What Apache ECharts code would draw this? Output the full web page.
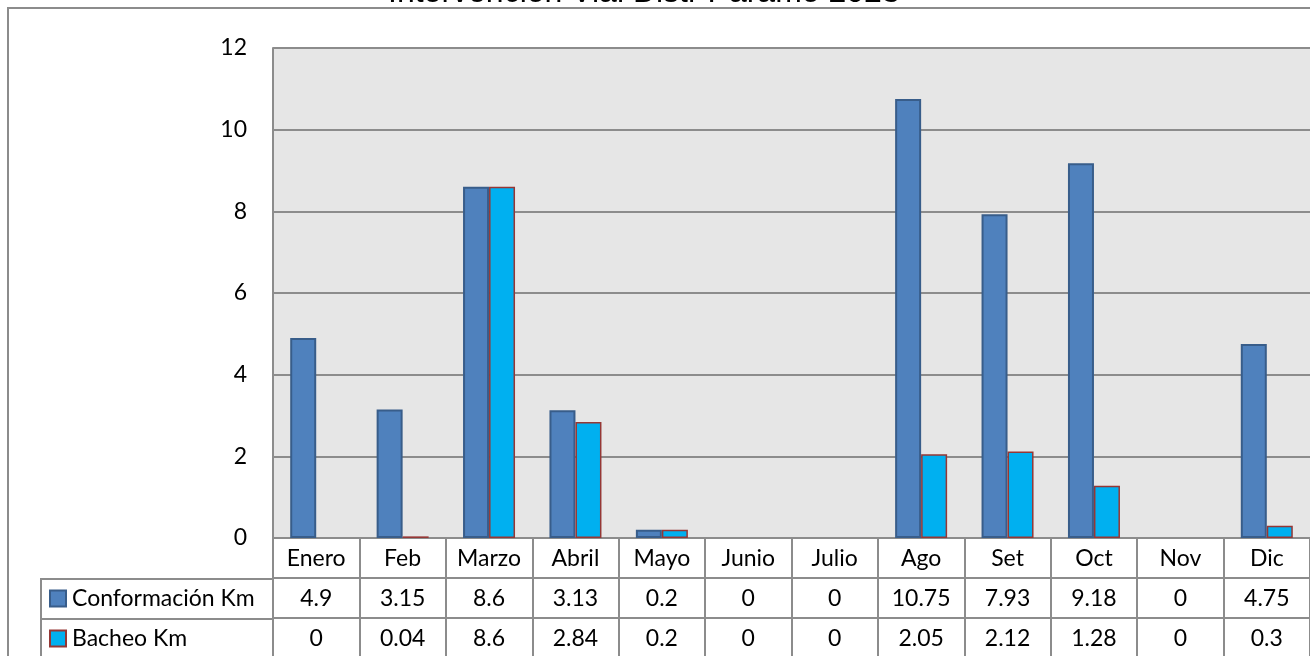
<!DOCTYPE html>
<html>
<head>
<meta charset="utf-8">
<script src="https://cdn.jsdelivr.net/npm/echarts@6/dist/echarts.min.js"></script>
<style>
html,body{margin:0;padding:0;background:#fff;}
#chart{width:1310px;height:656px;}
</style>
</head>
<body>
<div id="chart"></div>
<script>
const titleText = 'Intervención Vial Distr Paramo 2023';
const months = ['Enero','Feb','Marzo','Abril','Mayo','Junio','Julio','Ago','Set','Oct','Nov','Dic'];
const conformacion = [4.9, 3.15, 8.6, 3.13, 0.2, 0, 0, 10.75, 7.93, 9.18, 0, 4.75];
const bacheo = [0, 0.04, 8.6, 2.84, 0.2, 0, 0, 2.05, 2.12, 1.28, 0, 0.3];
const seriesNames = ['Conformación Km', 'Bacheo Km'];

const FONT = 'Lato';
const FS = 23;
const GRAY = '#8c8c8c';

const chart = echarts.init(document.getElementById('chart'));

function tableAxis(data, offset) {
  return {
    type: 'category',
    data: data,
    position: 'bottom',
    offset: offset,
    gridIndex: 0,
    axisLine: { show: true, lineStyle: { color: GRAY, width: 2 } },
    axisTick: { show: true, length: 40, interval: 0, lineStyle: { color: GRAY, width: 2 } },
    axisLabel: { interval: 0, margin: 9, color: '#000', fontFamily: FONT, fontSize: FS },
    splitLine: { show: false }
  };
}

function legendRow(name, top) {
  return {
    orient: 'horizontal',
    left: 49,
    top: top,
    padding: 0,
    itemWidth: 16,
    itemHeight: 16,
    itemGap: 0,
    icon: 'rect',
    data: [name],
    textStyle: { fontFamily: FONT, fontSize: FS, color: '#000', padding: [0, 0, 0, 1] }
  };
}

const blank = v => (v === 0 ? null : v);

chart.setOption({
  animation: false,
  title: {
    text: titleText,
    left: 383,
    top: -28,
    textStyle: { fontFamily: 'Liberation Sans', fontSize: 32, fontWeight: 'normal', color: '#000' }
  },
  graphic: [
    { type: 'rect', shape: { x: 8, y: 8, width: 1400, height: 700 }, style: { fill: 'none', stroke: GRAY, lineWidth: 2 }, silent: true },
    { type: 'rect', shape: { x: 41, y: 579, width: 232, height: 120 }, style: { fill: 'none', stroke: GRAY, lineWidth: 2 }, silent: true },
    { type: 'line', shape: { x1: 41, y1: 619, x2: 273, y2: 619 }, style: { stroke: GRAY, lineWidth: 2 }, silent: true }
  ],
  legend: [
    legendRow(seriesNames[0], 587),
    legendRow(seriesNames[1], 627)
  ],
  grid: {
    left: 273, top: 48, width: 1048, height: 490,
    show: true, backgroundColor: '#e6e6e6', borderWidth: 0
  },
  xAxis: [
    tableAxis(months, 0),
    tableAxis(conformacion.map(String), 40),
    tableAxis(bacheo.map(String), 80)
  ],
  yAxis: {
    type: 'value',
    min: 0, max: 12, interval: 2,
    axisLine: { show: true, lineStyle: { color: GRAY, width: 2 } },
    axisTick: { show: false },
    axisLabel: { margin: 26, color: '#000', fontFamily: FONT, fontSize: FS },
    splitLine: { show: true, lineStyle: { color: GRAY, width: 2 } }
  },
  series: [
    {
      name: seriesNames[0], type: 'bar', xAxisIndex: 0,
      data: conformacion.map(blank),
      barWidth: 26, barGap: '0%',
      itemStyle: { color: '#4f81bd', borderColor: '#385d8a', borderWidth: 2 }
    },
    {
      name: seriesNames[1], type: 'bar', xAxisIndex: 0,
      data: bacheo.map(blank),
      barWidth: 26, barGap: '0%',
      itemStyle: { color: '#00b0f0', borderColor: '#953735', borderWidth: 1.5 }
    }
  ]
});
</script>
</body>
</html>
